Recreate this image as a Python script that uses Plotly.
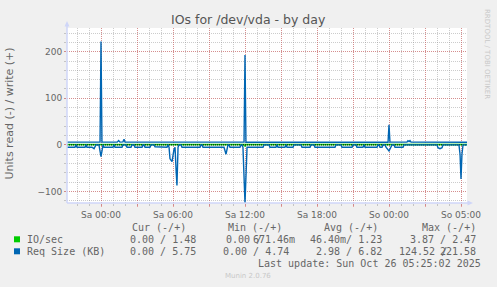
import plotly.graph_objects as go

# ---------------- data ----------------
# time axis: hours relative to "Sa 00:00" (continuous; DST change at So 03:00)
x_start, x_end = -2.833, 30.5
tick_hours = [0, 3, 6, 9, 12, 15, 18, 21, 24, 27, 30]
tick_labels = ["Sa 00:00", "", "Sa 06:00", "", "Sa 12:00", "", "Sa 18:00", "",
               "So 00:00", "", "So 05:00"]
y_ticks = [-100, 0, 100, 200]

# IO/sec
io_read_t = [-2.83, 11.92, 12.0, 12.08, 30.5]
io_read_v = [0.02, 0.02, 3.87, 0.02, 0.0]
io_write_t = [-2.83, 0.0, 12.0, 24.0, 30.5]
io_write_v = [1.2, 1.3, 1.25, 1.2, 1.48]

# Req Size (KB)
req_write_t = [-2.83, -0.08, 0.0, 0.08, 1.35, 1.47, 1.58, 1.83, 1.92, 2.0,
               11.92, 12.0, 12.08, 23.92, 24.0, 24.08, 25.5, 25.58, 25.67,
               25.75, 25.83, 30.5]
req_write_v = [6.0, 6.0, 221.58, 6.2, 6.0, 9.5, 6.0, 6.5, 12.0, 6.0,
               6.0, 193.0, 5.8, 5.8, 43.0, 5.9, 5.9, 9.0, 7.0,
               9.0, 5.9, 5.75]

req_read_t = [-2.83, -2.17, -2.08, -2.0, -1.33, -1.25, -1.17, -0.75, -0.58, -0.42,
              -0.17, 0.0, 0.17, 0.25, 1.0, 1.08, 1.17, 1.75, 1.83, 2.08,
              2.17, 2.5, 2.58, 2.75, 2.83, 3.42, 3.5, 3.58, 3.67, 4.08,
              4.17, 4.42, 4.5, 4.92, 5.0, 5.5, 5.58, 5.67, 5.75, 5.92,
              6.08, 6.17, 6.25, 6.33, 6.42, 6.5, 6.67, 6.75, 8.25, 8.33,
              8.42, 8.5, 10.25, 10.42, 10.58, 10.67, 10.75, 11.58, 11.67, 11.75,
              11.83, 12.0, 12.17, 13.5, 13.58, 14.0, 14.08, 14.58, 14.67, 14.75,
              15.33, 15.42, 15.5, 16.0, 16.08, 16.67, 16.75, 17.42, 17.5, 17.75,
              17.83, 19.5, 19.58, 20.0, 20.08, 20.92, 21.0, 21.25, 21.33, 21.83,
              21.92, 22.0, 23.0, 23.08, 23.17, 23.25, 23.42, 23.5, 23.67, 23.75,
              24.0, 24.17, 24.25, 24.42, 24.5, 25.17, 25.25, 28.0, 28.08, 28.25,
              28.42, 28.5, 29.83, 29.92, 30.0, 30.08, 30.17, 30.5]
req_read_v = [5, 5, 0, 5, 5, 0, 5, 5, 8, 0,
              0, 25, 0, 5, 5, 0, 5, 5, 0, 0,
              5, 5, 0, 0, 5, 5, 0, 0, 5, 5,
              0, 0, 4, 4, 5, 5, 0, 5, 30, 36,
              10, 5, 50, 87, 5, 0, 0, 5, 5, 0,
              0, 5, 5, 20, 0, 0, 5, 5, 0, 0,
              5, 124.52, 5, 5, 0, 0, 5, 5, 0, 5,
              5, 0, 5, 5, 0, 0, 5, 5, 0, 0,
              5, 5, 0, 0, 5, 5, 0, 0, 5, 5,
              0, 5, 5, 0, 0, 5, 5, 0, 0, 5,
              13, 5, 0, 0, 5, 5, 0, 0, 6, 8,
              6, 0, 0, 20, 73, 20, 0, 0]

series_names = ["IO/sec", "Req Size (KB)"]
series_colors = ["#00CC00", "#0066B3"]
legend_header = ["Cur (-/+)", "Min (-/+)", "Avg (-/+)", "Max (-/+)"]
io_cells = ["0.00 / 1.48", "0.00 /", "671.46m", "46.40m/ 1.23", "3.87 / 2.47"]
req_cells = ["0.00 / 5.75", "0.00 / 4.74", "2.98 / 6.82", "124.52 /", "221.58"]
last_update = "Last update: Sun Oct 26 05:25:02 2025"
version_text = "Munin 2.0.76"
title_text = "IOs for /dev/vda - by day"
ytitle_text = "Units read (-) / write (+)"
watermark = "RRDTOOL / TOBI OETIKER"

# ---------------- layout helpers ----------------
W, H = 497, 287
L, R, T, B = 67, 467, 28, 203


def px(x):
    return (x - L) / (R - L)


def py(y):
    return (B - y) / (B - T)


FONT = "#666666"
GRID = "rgba(143,143,143,0.45)"
MGRID = "rgba(222,79,79,0.5)"
AXIS = "#CFD6F8"

fig = go.Figure()
fig.add_trace(go.Scatter(x=io_read_t, y=[-v for v in io_read_v], mode="lines",
                         line=dict(color=series_colors[0], width=1), hoverinfo="skip"))
fig.add_trace(go.Scatter(x=io_write_t, y=io_write_v, mode="lines",
                         line=dict(color=series_colors[0], width=1), hoverinfo="skip"))
fig.add_trace(go.Scatter(x=[x_start, x_end], y=[0, 0], mode="lines",
                         line=dict(color="#000000", width=1, dash="1px,1px"), hoverinfo="skip"))
fig.add_trace(go.Scatter(x=req_read_t, y=[-v for v in req_read_v], mode="lines",
                         line=dict(color=series_colors[1], width=1.4), hoverinfo="skip"))
fig.add_trace(go.Scatter(x=req_write_t, y=req_write_v, mode="lines",
                         line=dict(color=series_colors[1], width=1.4), hoverinfo="skip"))

fig.update_layout(
    width=W, height=H, autosize=False,
    margin=dict(l=L, r=W - R, t=T, b=H - B, pad=0),
    paper_bgcolor="#F0F0F0", plot_bgcolor="#FFFFFF",
    showlegend=False,
    font=dict(family="DejaVu Sans", size=9, color=FONT),
)
fig.update_xaxes(
    range=[x_start, x_end], tickmode="array", tickvals=tick_hours, ticktext=tick_labels,
    showgrid=True, gridcolor=MGRID, griddash="1px,1px", gridwidth=1,
    ticks="outside", ticklen=3, tickcolor=MGRID, zeroline=False,
    showline=False, tickfont=dict(size=9, color=FONT),
    minor=dict(tickmode="linear", tick0=0, dtick=1, showgrid=True, gridcolor=GRID,
               griddash="1px,1px", ticks="outside", ticklen=2, tickcolor=GRID),
)
fig.update_yaxes(
    range=[-124.7, 250.8], tickmode="array", tickvals=y_ticks,
    showgrid=True, gridcolor=MGRID, griddash="1px,1px", gridwidth=1,
    ticks="outside", ticklen=2, tickcolor=MGRID, zeroline=False,
    showline=False, tickfont=dict(size=9, color=FONT),
    minor=dict(tickmode="linear", tick0=0, dtick=20, showgrid=True, gridcolor=GRID,
               griddash="1px,1px", ticks="outside", ticklen=2, tickcolor=GRID),
)

shapes = []
# axis lines with arrows
shapes.append(dict(type="line", xref="paper", yref="paper", x0=px(67), x1=px(67),
                   y0=py(203), y1=py(25), line=dict(color=AXIS, width=1.5)))
shapes.append(dict(type="line", xref="paper", yref="paper", x0=px(67), x1=px(470),
                   y0=py(203), y1=py(203), line=dict(color=AXIS, width=1.5)))
shapes.append(dict(type="path", xref="paper", yref="paper",
                   path=f"M {px(64.5)} {py(26.5)} L {px(69.5)} {py(26.5)} L {px(67)} {py(21)} Z",
                   fillcolor=AXIS, line=dict(color=AXIS, width=0)))
shapes.append(dict(type="path", xref="paper", yref="paper",
                   path=f"M {px(467.5)} {py(200.5)} L {px(467.5)} {py(205.5)} L {px(473)} {py(203)} Z",
                   fillcolor=AXIS, line=dict(color=AXIS, width=0)))
# legend swatches
for i, c in enumerate(series_colors):
    cy = 239.3 + 12 * i
    shapes.append(dict(type="rect", xref="paper", yref="paper",
                       x0=px(14), x1=px(20), y0=py(cy + 3), y1=py(cy - 3),
                       fillcolor=c, line=dict(width=0)))
fig.update_layout(shapes=shapes)

ann = []


def text(t, x, y, anchor="left", size=10, family="DejaVu Sans Mono", color=FONT, angle=0):
    ann.append(dict(text=t, x=px(x), y=py(y), xref="paper", yref="paper",
                    xanchor=anchor, yanchor="middle", showarrow=False,
                    borderpad=0, textangle=angle,
                    font=dict(family=family, size=size, color=color)))


text(title_text, 248.5, 19.3, "center", 12.5, "DejaVu Sans", "#555555")
text(ytitle_text, 9, 113.5, "center", 11, "DejaVu Sans", FONT, -90)
text(watermark, 487.5, 53.5, "center", 7, "DejaVu Sans", "#C8C8C8", 90)

hdr_right = [187.3, 283, 379.3, 476.7]
for h, xr in zip(legend_header, hdr_right):
    text(h, xr, 227.7, "right")
text(series_names[0], 26, 239.3)
text(series_names[1], 26, 251.3)
io_right = [197, 263, 296, 383.3, 476.7]
for c, xr in zip(io_cells, io_right):
    text(c, xr, 239.3, "right")
req_right = [197, 290, 383.3, 448, 476.7]
for c, xr in zip(req_cells, req_right):
    text(c, xr, 251.3, "right")
text(last_update, 482, 263.7, "right")
text(version_text, 248, 276, "center", 7, "DejaVu Sans", "#C8C8C8")
fig.update_layout(annotations=ann)

fig.write_html("out.html")
